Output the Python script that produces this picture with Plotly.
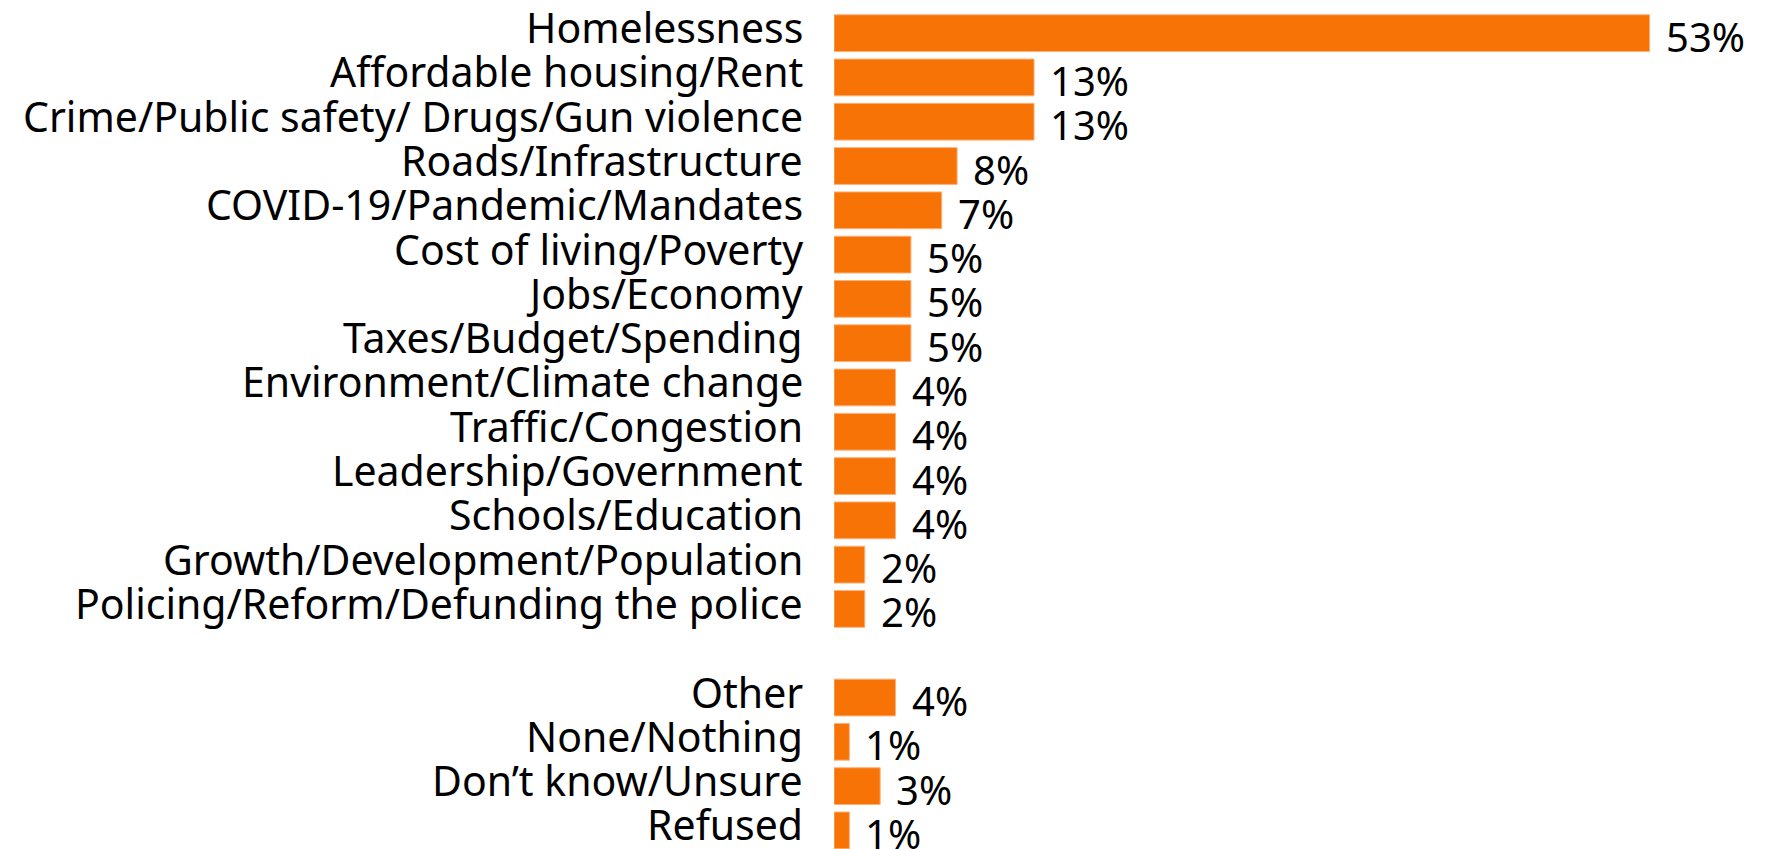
import plotly.graph_objects as go

# Main issues
categories = [
    "Homelessness",
    "Affordable housing/Rent",
    "Crime/Public safety/ Drugs/Gun violence",
    "Roads/Infrastructure",
    "COVID-19/Pandemic/Mandates",
    "Cost of living/Poverty",
    "Jobs/Economy",
    "Taxes/Budget/Spending",
    "Environment/Climate change",
    "Traffic/Congestion",
    "Leadership/Government",
    "Schools/Education",
    "Growth/Development/Population",
    "Policing/Reform/Defunding the police",
]
values = [53, 13, 13, 8, 7, 5, 5, 5, 4, 4, 4, 4, 2, 2]

# Other responses (shown after a gap)
other_categories = ["Other", "None/Nothing", "Don\u2019t know/Unsure", "Refused"]
other_values = [4, 1, 3, 1]

GAP = " "
all_cats = categories + [GAP] + other_categories
all_vals = values + [None] + other_values

BAR_COLOR = "#F87306"
FONT = "Noto Sans"
LABEL_SIZE = 41
VALUE_SIZE = 40

fig = go.Figure()
fig.add_trace(go.Bar(
    x=all_vals,
    y=all_cats,
    orientation="h",
    marker=dict(color=BAR_COLOR, line=dict(color="#FBB27A", width=1)),
    width=0.83,
    hoverinfo="skip",
))

annotations = []
for c, v in zip(all_cats, all_vals):
    if v is None:
        continue
    # category label, right-aligned left of the bars
    annotations.append(dict(
        x=0, y=c, xref="paper", yref="y",
        text=c,
        showarrow=False,
        xanchor="right", yanchor="middle",
        xshift=-29, yshift=6,
        font=dict(family=FONT, size=LABEL_SIZE, color="black"),
    ))
    # value label at the bar end
    annotations.append(dict(
        x=v, y=c, xref="x", yref="y",
        text=f"{v}%",
        showarrow=False,
        xanchor="left", yanchor="middle",
        xshift=14, yshift=-3,
        font=dict(family=FONT, size=VALUE_SIZE, color="black"),
    ))

# The page body adds an 8px offset, so the figure is sized 8px smaller
fig.update_layout(
    width=1757, height=841,
    margin=dict(l=826, r=0, t=3, b=0, pad=0),
    paper_bgcolor="white",
    plot_bgcolor="white",
    showlegend=False,
    annotations=annotations,
    font=dict(family=FONT, size=LABEL_SIZE, color="black"),
)
fig.update_xaxes(
    range=[0, 60.5],
    visible=False,
    showgrid=False,
    zeroline=False,
)
fig.update_yaxes(
    type="category",
    categoryorder="array",
    categoryarray=all_cats,
    range=[18.42, -0.5],
    showgrid=False,
    zeroline=False,
    showline=False,
    showticklabels=False,
    ticks="",
    automargin=False,
)

fig.write_html("out.html")
